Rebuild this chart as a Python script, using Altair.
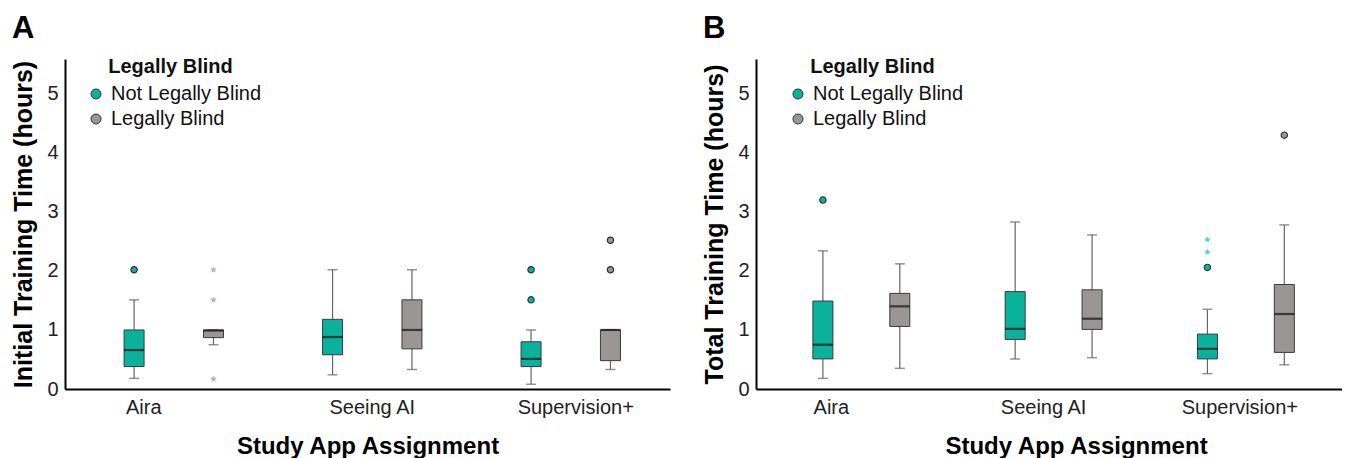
import altair as alt
import pandas as pd

NLB = "Not Legally Blind"
LB = "Legally Blind"
apps = ["Aira", "Seeing AI", "Supervision+"]
groups = [NLB, LB]
colors = ["#0BB29B", "#9B9696"]

box_app = ["Aira", "Aira", "Seeing AI", "Seeing AI", "Supervision+", "Supervision+"]
box_group = [NLB, LB, NLB, LB, NLB, LB]

# Panel A: Initial training time (hours)
init_lo = [0.18, 0.75, 0.24, 0.33, 0.08, 0.33]
init_q1 = [0.38, 0.87, 0.58, 0.68, 0.38, 0.48]
init_med = [0.66, 0.99, 0.88, 1.00, 0.51, 1.00]
init_q3 = [1.00, 1.00, 1.18, 1.51, 0.80, 1.00]
init_hi = [1.51, 1.00, 2.02, 2.02, 1.00, 1.00]
init_out_app = ["Aira", "Supervision+", "Supervision+", "Supervision+", "Supervision+"]
init_out_group = [NLB, NLB, NLB, LB, LB]
init_out_val = [2.02, 1.51, 2.02, 2.02, 2.52]
init_star_app = ["Aira", "Aira", "Aira"]
init_star_group = [LB, LB, LB]
init_star_val = [2.02, 1.51, 0.17]

# Panel B: Total training time (hours)
tot_lo = [0.18, 0.35, 0.51, 0.53, 0.26, 0.41]
tot_q1 = [0.51, 1.06, 0.84, 1.01, 0.51, 0.62]
tot_med = [0.75, 1.40, 1.02, 1.19, 0.68, 1.27]
tot_q3 = [1.49, 1.62, 1.65, 1.68, 0.93, 1.77]
tot_hi = [2.34, 2.12, 2.83, 2.61, 1.35, 2.78]
tot_out_app = ["Aira", "Supervision+", "Supervision+"]
tot_out_group = [NLB, NLB, LB]
tot_out_val = [3.20, 2.06, 4.30]
tot_star_app = ["Supervision+", "Supervision+"]
tot_star_group = [NLB, NLB]
tot_star_val = [2.32, 2.53]

y_ticks = [0, 1, 2, 3, 4, 5]
FONT = "Liberation Sans"
STAR = "M0,-1L0.294,-0.405L0.951,-0.309L0.476,0.155L0.588,0.809L0,0.5L-0.588,0.809L-0.476,0.155L-0.951,-0.309L-0.294,-0.405Z"


def panel(letter, ytitle, lo, q1, med, q3, hi, oa, og, ov, sa, sg, sv,
          width, legend_x, label_shift, title_x=None):
    boxes = pd.DataFrame({"app": box_app, "group": box_group, "lo": lo,
                          "q1": q1, "med": med, "q3": q3, "hi": hi})
    outs = pd.DataFrame({"app": oa, "group": og, "val": ov})
    stars = pd.DataFrame({"app": sa, "group": sg, "val": sv})

    label_off = {"condition": [{"test": f"datum.value == '{a}'", "value": s}
                               for a, s in zip(apps, label_shift)], "value": 0}
    xaxis_kw = dict(title="Study App Assignment", labelAngle=0, labelPadding=8,
                    titlePadding=17, labelOffset=label_off)
    if title_x is not None:
        xaxis_kw["titleX"] = title_x
    x = alt.X("app:N", sort=apps,
              scale=alt.Scale(domain=apps, paddingInner=0, paddingOuter=0.024, align=1),
              axis=alt.Axis(**xaxis_kw))
    xo = alt.XOffset("group:N", sort=groups,
                     scale=alt.Scale(domain=groups, paddingInner=0, paddingOuter=0.25))
    yscale = alt.Scale(domain=[0, 5.59], nice=False, zero=True)
    yaxis = alt.Axis(title=ytitle, values=y_ticks, format="d", labelPadding=7,
                     titlePadding=10, titleFontSize=25)
    cscale = alt.Scale(domain=groups, range=colors)

    base = alt.Chart(boxes)
    whisk = base.mark_rule(color="#666666", strokeWidth=1.2).encode(
        x=x, xOffset=xo, y=alt.Y("lo:Q", scale=yscale, axis=yaxis), y2="hi:Q")
    cap_hi = base.mark_tick(size=10, thickness=1.5, color="#666666").encode(
        x=x, xOffset=xo, y=alt.Y("hi:Q", scale=yscale))
    cap_lo = base.mark_tick(size=10, thickness=1.5, color="#666666").encode(
        x=x, xOffset=xo, y=alt.Y("lo:Q", scale=yscale))
    box = base.mark_bar(size=20, stroke="#3a3a3a", strokeWidth=1).encode(
        x=x, xOffset=xo, y=alt.Y("q1:Q", scale=yscale), y2="q3:Q",
        color=alt.Color("group:N", scale=cscale, legend=alt.Legend(
            title="\u200b\u00a0\u00a0\u00a0\u00a0Legally Blind", orient="none",
            legendX=legend_x, legendY=-2, symbolType="circle", symbolSize=100,
            symbolStrokeColor="#333", symbolStrokeWidth=1, symbolOpacity=1,
            labelFontSize=20, titleFontSize=20, titleFontWeight="bold",
            labelFont=FONT, titleFont=FONT, labelColor="#111", titleColor="#111",
            rowPadding=5, titlePadding=7, labelOffset=5, titleLimit=400)))
    med_line = base.mark_tick(size=20, thickness=2.2, color="#111").encode(
        x=x, xOffset=xo, y=alt.Y("med:Q", scale=yscale))
    out = alt.Chart(outs).mark_point(filled=True, size=40, stroke="#333",
                                      strokeWidth=1.2, opacity=1).encode(
        x=x, xOffset=xo, y=alt.Y("val:Q", scale=yscale),
        color=alt.Color("group:N", scale=cscale, legend=None))
    star = alt.Chart(stars).mark_point(filled=True, shape=STAR, size=45, opacity=1).encode(
        x=x, xOffset=xo, y=alt.Y("val:Q", scale=yscale),
        fill=alt.condition(alt.datum.group == LB, alt.value("#b5b5b5"), alt.value("#5fd3c1")))

    return alt.layer(whisk, cap_hi, cap_lo, box, med_line, out, star).properties(
        width=width, height=330,
        title=alt.TitleParams(letter, anchor="start", fontSize=31, fontWeight="bold",
                              font=FONT, color="#000", offset=12))


pa = panel("A", "Initial Training Time (hours)", init_lo, init_q1, init_med, init_q3,
           init_hi, init_out_app, init_out_group, init_out_val,
           init_star_app, init_star_group, init_star_val, 605, 21, [-30, 0, 5])
pb = panel("B", "Total Training Time (hours)", tot_lo, tot_q1, tot_med, tot_q3,
           tot_hi, tot_out_app, tot_out_group, tot_out_val,
           tot_star_app, tot_star_group, tot_star_val, 586, 32, [-30, -10, -6],
           title_x=320)

chart = alt.hconcat(pa, pb, spacing=32).resolve_scale(
    color="independent", x="independent", y="independent", xOffset="independent"
).resolve_legend(color="independent").configure_view(stroke=None).configure_axis(
    domainColor="#000", domainWidth=2, ticks=False, grid=False,
    labelFont=FONT, labelFontSize=20, labelColor="#222",
    titleFont=FONT, titleFontSize=24, titleFontWeight="bold", titleColor="#000"
).properties(padding={"left": 3, "top": 5, "right": 0, "bottom": 0}, background="white")

chart.save("out.html", embed_options={"renderer": "svg", "actions": False})
